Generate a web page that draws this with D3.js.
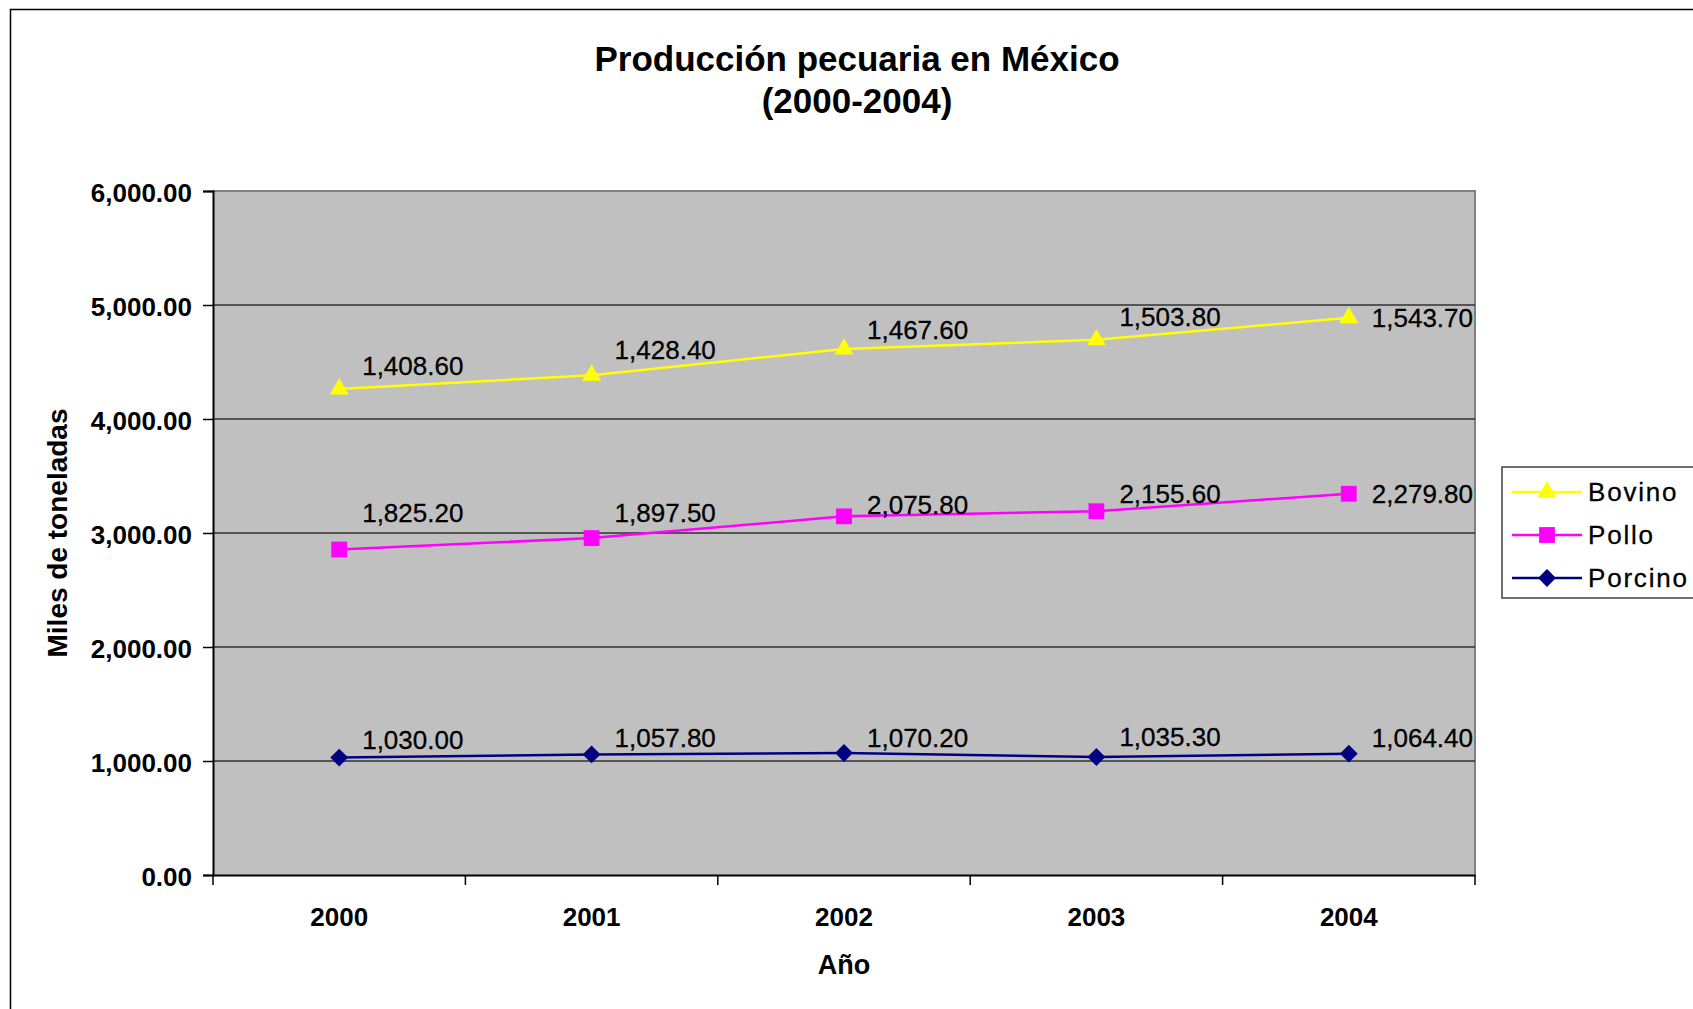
<!DOCTYPE html>
<html lang="es">
<head>
<meta charset="utf-8">
<title>Producción pecuaria en México (2000-2004)</title>
<script src="https://cdn.jsdelivr.net/npm/d3@7"></script>
<style>
  html, body { margin: 0; padding: 0; background: #ffffff; }
  svg { display: block; font-family: "Liberation Sans", Arial, sans-serif; }
</style>
</head>
<body>
<svg id="chart" width="1693" height="1009"></svg>
<script>
// Years on the category axis
const years = ["2000", "2001", "2002", "2003", "2004"];

// Production per species (miles de toneladas)
const porcino = [1030.0, 1057.8, 1070.2, 1035.3, 1064.4];
const pollo   = [1825.2, 1897.5, 2075.8, 2155.6, 2279.8];
const bovino  = [1408.6, 1428.4, 1467.6, 1503.8, 1543.7];

// Value axis ticks
const yTicks = [0, 1000, 2000, 3000, 4000, 5000, 6000];

// Series in stacking order (bottom first)
const seriesNames = ["Porcino", "Pollo", "Bovino"];
const seriesValues = [porcino, pollo, bovino];

// Rows for d3.stack
const rows = years.map((yr, i) => {
  const r = { year: yr };
  seriesNames.forEach((n, k) => { r[n] = seriesValues[k][i]; });
  return r;
});
const stacked = d3.stack().keys(seriesNames)(rows);

// Square diamond (a square turned 45 degrees)
const symbolRhombus = {
  draw(ctx, size) {
    const r = Math.sqrt(size / 2);
    ctx.moveTo(0, -r);
    ctx.lineTo(r, 0);
    ctx.lineTo(0, r);
    ctx.lineTo(-r, 0);
    ctx.closePath();
  }
};

// Look of each series
const style = {
  Bovino:  { color: "#FFFF00", symbol: d3.symbolTriangle, size: 155 },
  Pollo:   { color: "#FF00FF", symbol: d3.symbolSquare,   size: 250 },
  Porcino: { color: "#000080", symbol: symbolRhombus,     size: 160 }
};

// How far each value label sits above its point (px), per year
const labelLift = {
  Bovino:  [23, 26, 19, 23, 0],
  Pollo:   [37, 25, 12, 18, 0],
  Porcino: [18, 17, 15, 20, 16]
};

const svg = d3.select("#chart");

// Chart frame
svg.append("rect")
  .attr("x", 10.5).attr("y", 9.5)
  .attr("width", 1720).attr("height", 1020)
  .attr("fill", "#ffffff")
  .attr("stroke", "#000").attr("stroke-width", 1.5);

const plot = { left: 213, right: 1475, top: 191, bottom: 875 };

const x = d3.scaleBand().domain(years).range([plot.left, plot.right]).padding(0);
const y = d3.scaleLinear().domain([0, 6000]).range([plot.bottom, plot.top]);

// Title
const title = svg.append("text")
  .attr("text-anchor", "middle")
  .attr("font-weight", "bold")
  .attr("font-size", 35)
  .attr("fill", "#000");
title.append("tspan").attr("x", 857).attr("y", 71).text("Producción pecuaria en México");
title.append("tspan").attr("x", 857).attr("y", 113).text("(2000-2004)");

// Plot background
svg.append("rect")
  .attr("x", plot.left).attr("y", plot.top)
  .attr("width", plot.right - plot.left).attr("height", plot.bottom - plot.top)
  .attr("fill", "#C0C0C0");

// Plot border (top and right)
svg.append("path")
  .attr("d", `M${plot.left},${plot.top}H${plot.right}V${plot.bottom}`)
  .attr("fill", "none").attr("stroke", "#808080").attr("stroke-width", 2);

// Gridlines
svg.append("g")
  .selectAll("line")
  .data(yTicks.filter(d => d > 0 && d < 6000))
  .join("line")
  .attr("x1", plot.left).attr("x2", plot.right)
  .attr("y1", d => y(d)).attr("y2", d => y(d))
  .attr("stroke", "#303030").attr("stroke-width", 1.5);

// Y axis
const yAxis = svg.append("g")
  .attr("transform", `translate(${plot.left},0)`)
  .call(d3.axisLeft(y).tickValues(yTicks).tickFormat(d3.format(",.2f")).tickSize(10).tickPadding(11));
yAxis.select(".domain").attr("stroke", "#000").attr("stroke-width", 2);
yAxis.selectAll(".tick line").attr("stroke", "#000").attr("stroke-width", 1.5);
yAxis.selectAll(".tick text")
  .attr("font-family", "Liberation Sans, Arial, sans-serif")
  .attr("font-size", 26).attr("font-weight", "bold").attr("fill", "#000")
  .attr("dy", "0.42em");

// X axis: labels at category centres, ticks on category boundaries
const xAxis = svg.append("g")
  .attr("transform", `translate(0,${plot.bottom})`)
  .call(d3.axisBottom(x).tickSize(0).tickPadding(0));
xAxis.select(".domain").attr("stroke", "#000").attr("stroke-width", 2);
xAxis.selectAll(".tick text")
  .attr("font-family", "Liberation Sans, Arial, sans-serif")
  .attr("font-size", 26).attr("font-weight", "bold").attr("fill", "#000")
  .attr("y", 51).attr("dy", 0);
const boundaries = years.map(d => x(d)).concat([x.range()[1]]);
xAxis.append("g")
  .selectAll("line")
  .data(boundaries)
  .join("line")
  .attr("x1", d => d).attr("x2", d => d)
  .attr("y1", 0).attr("y2", 10)
  .attr("stroke", "#000").attr("stroke-width", 1.5);

// Axis titles
svg.append("text")
  .attr("x", (plot.left + plot.right) / 2).attr("y", 974)
  .attr("text-anchor", "middle")
  .attr("font-size", 27).attr("font-weight", "bold")
  .text("Año");

svg.append("text")
  .attr("transform", `translate(67,${(plot.top + plot.bottom) / 2}) rotate(-90)`)
  .attr("text-anchor", "middle")
  .attr("font-size", 28).attr("font-weight", "bold")
  .text("Miles de toneladas");

// Lines
const line = d3.line()
  .x((d, i) => x(years[i]) + x.bandwidth() / 2)
  .y(d => y(d[1]));

const layers = svg.append("g").selectAll("g")
  .data(stacked)
  .join("g");

layers.append("path")
  .attr("d", d => line(d))
  .attr("fill", "none")
  .attr("stroke", d => style[d.key].color)
  .attr("stroke-width", 2.5);

// Markers
layers.each(function (layer) {
  const st = style[layer.key];
  d3.select(this).selectAll("path.mark")
    .data(layer)
    .join("path")
    .attr("class", "mark")
    .attr("d", d3.symbol().type(st.symbol).size(st.size))
    .attr("transform", (d, i) =>
      `translate(${x(years[i]) + x.bandwidth() / 2},${y(d[1])})`)
    .attr("fill", st.color);
});

// Value labels
const fmt = d3.format(",.2f");
layers.each(function (layer) {
  const k = seriesNames.indexOf(layer.key);
  d3.select(this).selectAll("text.val")
    .data(layer)
    .join("text")
    .attr("class", "val")
    .attr("x", (d, i) => x(years[i]) + x.bandwidth() / 2 + 23)
    .attr("y", (d, i) => y(d[1]) - labelLift[layer.key][i])
    .attr("dy", "0.36em")
    .attr("font-size", 26)
    .attr("fill", "#000")
    .attr("stroke", "#000").attr("stroke-width", 0.3)
    .text((d, i) => fmt(seriesValues[k][i]));
});

// Legend
const legend = svg.append("g").attr("transform", "translate(1502,467)");
legend.append("rect")
  .attr("width", 220).attr("height", 131)
  .attr("fill", "#ffffff").attr("stroke", "#404040").attr("stroke-width", 1.5);

const legendOrder = ["Bovino", "Pollo", "Porcino"];
const items = legend.selectAll("g.item")
  .data(legendOrder)
  .join("g")
  .attr("class", "item")
  .attr("transform", (d, i) => `translate(0,${25 + i * 43})`);
items.append("line")
  .attr("x1", 10).attr("x2", 80)
  .attr("stroke", d => style[d].color).attr("stroke-width", 2.5);
items.append("path")
  .attr("d", d => d3.symbol().type(style[d].symbol).size(style[d].size)())
  .attr("transform", "translate(45,0)")
  .attr("fill", d => style[d].color);
items.append("text")
  .attr("x", 86).attr("dy", "0.36em")
  .attr("font-size", 26).attr("letter-spacing", 1.8)
  .attr("fill", "#000")
  .attr("stroke", "#000").attr("stroke-width", 0.3)
  .text(d => d);
</script>
</body>
</html>
